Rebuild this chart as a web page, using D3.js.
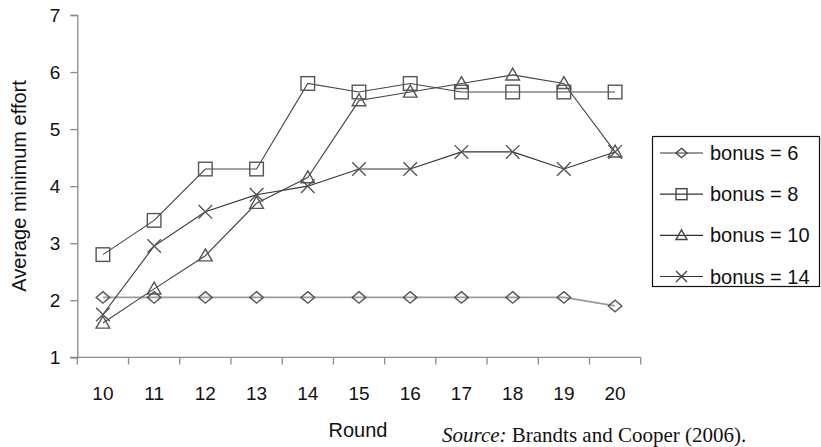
<!DOCTYPE html>
<html><head><meta charset="utf-8">
<script src="https://cdn.jsdelivr.net/npm/d3@7"></script>
<style>html,body{margin:0;padding:0;background:#fff;} svg{display:block;}</style>
</head><body>
<svg id="c" width="821" height="447"></svg>
<script>
const rounds = ["10","11","12","13","14","15","16","17","18","19","20"];
const bonus6  = [2.05,2.05,2.05,2.05,2.05,2.05,2.05,2.05,2.05,2.05,1.9];
const bonus8  = [2.8,3.4,4.3,4.3,5.8,5.65,5.8,5.65,5.65,5.65,5.65];
const bonus10 = [1.6,2.2,2.78,3.7,4.15,5.5,5.65,5.8,5.95,5.8,4.6];
const bonus14 = [1.75,2.95,3.55,3.85,4.0,4.3,4.3,4.6,4.6,4.3,4.6];
const seriesNames = ["bonus = 6","bonus = 8","bonus = 10","bonus = 14"];
const yTicks = [1,2,3,4,5,6,7];

const series = [
  {name: seriesNames[0], values: bonus6,  marker: "diamond", line: "#9a9a9a", lw: 1.8},
  {name: seriesNames[1], values: bonus8,  marker: "square",  line: "#444", lw: 1.1},
  {name: seriesNames[2], values: bonus10, marker: "triangle",line: "#444", lw: 1.1},
  {name: seriesNames[3], values: bonus14, marker: "cross",   line: "#333", lw: 1.1}
];

const svg = d3.select("#c");
const x = d3.scaleBand().domain(rounds).range([77.3, 640.7]).padding(0);
const y = d3.scaleLinear().domain([1,7]).range([357.3, 15]);
const axisColor = "#8c8c8c";
const font = "'Liberation Sans', Arial, Helvetica, sans-serif";

// Y axis
const ya = svg.append("g").attr("transform","translate(77.3,0)")
  .call(d3.axisLeft(y).tickValues(yTicks).tickSize(7).tickPadding(10).tickFormat(d3.format("d")));
ya.select(".domain").attr("stroke",axisColor).attr("stroke-width",1.3);
ya.selectAll(".tick line").attr("stroke",axisColor).attr("stroke-width",1.3);
ya.selectAll(".tick text").attr("font-family",font).attr("font-size","19px").attr("fill","#111");

// X axis (labels at centers, ticks at category boundaries)
const xa = svg.append("g").attr("transform","translate(0,357.3)")
  .call(d3.axisBottom(x).tickSize(0).tickPadding(29));
xa.select(".domain").remove();
xa.selectAll(".tick text").attr("font-family",font).attr("font-size","19px").attr("fill","#111");
svg.append("line").attr("x1",70).attr("x2",x.range()[1]).attr("y1",357.3).attr("y2",357.3)
  .attr("stroke",axisColor).attr("stroke-width",1.3);
const bounds = rounds.map(r => x(r)).concat([x.range()[1]]);
svg.append("g").selectAll("line").data(bounds).join("line")
  .attr("x1",d=>d).attr("x2",d=>d).attr("y1",357.3).attr("y2",364.5)
  .attr("stroke",axisColor).attr("stroke-width",1.3);

// Axis titles
svg.append("text").attr("transform","translate(26,186) rotate(-90)")
  .attr("text-anchor","middle").attr("font-family",font).attr("font-size","20px").attr("fill","#111")
  .text("Average minimum effort");
svg.append("text").attr("x",358).attr("y",437).attr("text-anchor","middle")
  .attr("font-family",font).attr("font-size","20px").attr("fill","#111").text("Round");
const src = svg.append("text").attr("x",442).attr("y",442)
  .attr("font-family","'Liberation Serif','Times New Roman',serif").attr("font-size","21px").attr("fill","#111");
src.append("tspan").attr("font-style","italic").text("Source:");
src.append("tspan").text(" Brandts and Cooper (2006).");

// marker drawing
function drawMarker(g, type, cx, cy, s, stroke) {
  if (type === "diamond") {
    g.append("path").attr("d",`M${cx},${cy-s*0.85}L${cx+s},${cy}L${cx},${cy+s*0.85}L${cx-s},${cy}Z`)
      .attr("fill","none").attr("stroke",stroke).attr("stroke-width",1.4);
  } else if (type === "square") {
    g.append("rect").attr("x",cx-s).attr("y",cy-s).attr("width",2*s).attr("height",2*s)
      .attr("fill","none").attr("stroke",stroke).attr("stroke-width",1.4);
  } else if (type === "triangle") {
    g.append("path").attr("d",`M${cx},${cy-s*1.0}L${cx+s},${cy+s*0.75}L${cx-s},${cy+s*0.75}Z`)
      .attr("fill","none").attr("stroke",stroke).attr("stroke-width",1.4);
  } else {
    g.append("path").attr("d",`M${cx-s},${cy-s}L${cx+s},${cy+s}M${cx-s},${cy+s}L${cx+s},${cy-s}`)
      .attr("fill","none").attr("stroke",stroke).attr("stroke-width",1.4);
  }
}

const cx = r => x(r) + x.bandwidth()/2;
const line = d3.line().x((d,i)=>cx(rounds[i])).y(d=>y(d));
series.forEach(s => {
  svg.append("path").attr("d", line(s.values)).attr("fill","none")
    .attr("stroke", s.line).attr("stroke-width", s.lw);
});
series.forEach(s => {
  const g = svg.append("g");
  s.values.forEach((v,i) => drawMarker(g, s.marker, cx(rounds[i]), y(v), 6.8, "#555"));
});

// Legend
const lg = svg.append("g");
lg.append("rect").attr("x",652.5).attr("y",136.5).attr("width",167).attr("height",150)
  .attr("fill","#fff").attr("stroke","#111").attr("stroke-width",1.2);
const ly = d3.scalePoint().domain(seriesNames).range([153, 276.5]);
series.forEach(s => {
  const yy = ly(s.name);
  lg.append("line").attr("x1",660).attr("x2",703).attr("y1",yy).attr("y2",yy)
    .attr("stroke","#333").attr("stroke-width",1.1);
  drawMarker(lg, s.marker, 681.5, yy, 5.5, "#444");
  lg.append("text").attr("x",710).attr("y",yy+7).attr("font-family",font)
    .attr("font-size","20px").attr("fill","#111").text(s.name);
});
</script>
</body></html>
